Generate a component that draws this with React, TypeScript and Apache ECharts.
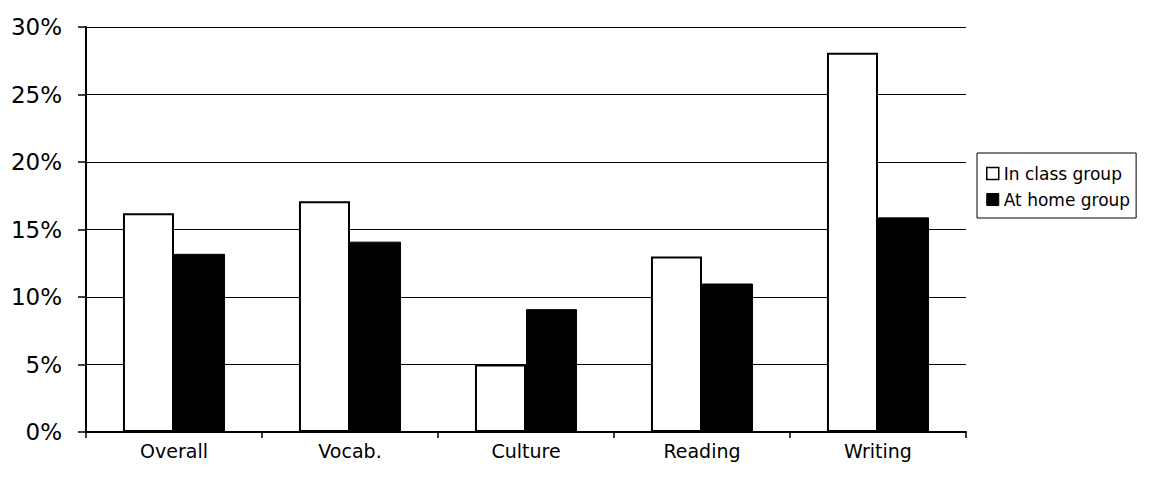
import React, { useEffect, useRef } from "react";
import * as echarts from "echarts";

const categories = ["Overall", "Vocab.", "Culture", "Reading", "Writing"];
const inClassGroup = [16.2, 17.1, 5.0, 13.0, 28.1];
const atHomeGroup = [13.2, 14.1, 9.1, 11.0, 15.9];
const seriesNames = ["In class group", "At home group"];
const yTicks = { min: 0, max: 30, interval: 5 };

export default function App() {
  const ref = useRef<HTMLDivElement>(null);
  useEffect(() => {
    if (!ref.current) return;
    const chart = echarts.init(ref.current, undefined, { renderer: "svg" });
    const font = "DejaVu Sans";
    chart.setOption({
      animation: false,
      backgroundColor: "#ffffff",
      grid: { left: 86, right: 185, top: 27, bottom: 50, containLabel: false },
      legend: {
        orient: "vertical",
        left: 977,
        top: 153,
        padding: [12, 6, 10, 9],
        itemWidth: 12,
        itemHeight: 12,
        itemGap: 9,
        borderColor: "#000",
        borderWidth: 1,
        backgroundColor: "#fff",
        icon: "rect",
        textStyle: { fontFamily: font, fontSize: 17, color: "#000", lineHeight: 17 },
        data: [
          { name: seriesNames[0], itemStyle: { color: "#fff", borderColor: "#000", borderWidth: 1.5 } },
          { name: seriesNames[1], itemStyle: { color: "#000", borderColor: "#000", borderWidth: 1 } },
        ],
      },
      xAxis: {
        type: "category",
        data: categories,
        axisLine: { lineStyle: { color: "#000", width: 2 } },
        axisTick: { show: true, length: 6, lineStyle: { color: "#000", width: 1.5 } },
        axisLabel: { fontFamily: font, fontSize: 19, color: "#000", margin: 9 },
      },
      yAxis: {
        type: "value",
        min: yTicks.min,
        max: yTicks.max,
        interval: yTicks.interval,
        axisLine: { show: true, lineStyle: { color: "#000", width: 2 } },
        axisTick: { show: true, length: 8, lineStyle: { color: "#000", width: 1.5 } },
        axisLabel: { fontFamily: font, fontSize: 23, color: "#000", margin: 24, formatter: "{value}%" },
        splitLine: { show: true, lineStyle: { color: "#000", width: 1 } },
      },
      series: [
        {
          name: seriesNames[0],
          type: "bar",
          data: inClassGroup,
          barGap: "0%",
          barCategoryGap: "42%",
          itemStyle: { color: "#fff", borderColor: "#000", borderWidth: 2 },
        },
        {
          name: seriesNames[1],
          type: "bar",
          data: atHomeGroup,
          barGap: "0%",
          barCategoryGap: "42%",
          itemStyle: { color: "#000", borderColor: "#000", borderWidth: 1 },
        },
      ],
    });
    return () => chart.dispose();
  }, []);
  return (
    <div
      ref={ref}
      style={{ position: "fixed", left: 0, top: 0, width: 1151, height: 482, background: "#fff" }}
    />
  );
}
